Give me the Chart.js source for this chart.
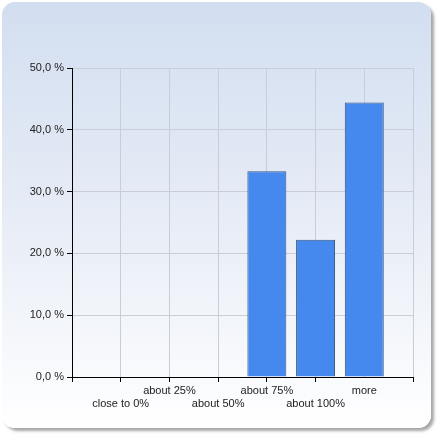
<!DOCTYPE html>
<html>
<head>
<meta charset="utf-8">
<script src="https://cdn.jsdelivr.net/npm/chart.js@4"></script>
<style>
  html, body { margin: 0; padding: 0; background: #fff; }
  #panel {
    position: absolute; left: 2px; top: 2px; width: 429px; height: 426px;
    border-radius: 13px;
    background: linear-gradient(to bottom, #d2def0 0%, #e9eef7 55%, #ffffff 100%);
    box-shadow: 3px 3px 3px rgba(0,0,0,0.35);
  }
  #chart { position: absolute; left: 0; top: 0; }
</style>
</head>
<body>
<div id="panel"></div>
<canvas id="chart" width="441" height="441"></canvas>
<script>
var categories = ['close to 0%', 'about 25%', 'about 50%', 'about 75%', 'about 100%', 'more'];
var percents   = [0, 0, 0, 33.3, 22.2, 44.4];
var yTicks     = [0, 10, 20, 30, 40, 50];

// an empty slot before and after, so the bars sit on the grid lines
var labels = [''].concat(categories, ['']);
var values = [null].concat(percents, [null]);

var ctx = document.getElementById('chart');

var chart = new Chart(ctx, {
  type: 'bar',
  data: {
    labels: labels,
    datasets: [{
      data: values,
      backgroundColor: '#4589ee',
      borderColor: '#35557f',
      borderWidth: 1,
      borderSkipped: 'bottom',
      barPercentage: 0.8,
      categoryPercentage: 1
    }]
  },
  options: {
    responsive: false,
    animation: false,
    layout: { padding: { top: 68, right: 28, left: 0, bottom: 0 } },
    plugins: { legend: { display: false }, tooltip: { enabled: false } },
    scales: {
      x: {
        offset: false,
        afterFit: function(s) { s.height = 64; },
        border: { color: '#000', width: 1 },
        grid: {
          offset: false,
          color: '#c9cdd5',
          tickLength: 5,
          tickColor: function(c) { return c.index === 6 ? 'rgba(0,0,0,0)' : '#000'; }
        },
        ticks: {
          autoSkip: false,
          maxRotation: 0,
          padding: 2,
          color: '#222',
          font: { family: 'Liberation Sans', size: 11 },
          callback: function(v, i) {
            var t = labels[i];
            return i % 2 === 1 ? ['', t] : [t];
          }
        }
      },
      y: {
        min: 0,
        max: 50,
        afterFit: function(s) { s.width = 72; },
        afterBuildTicks: function(s) { s.ticks = yTicks.map(function(v) { return { value: v }; }); },
        border: { color: '#000', width: 1 },
        grid: { color: '#c9cdd5', tickLength: 5, tickColor: '#000' },
        ticks: {
          padding: 3,
          color: '#222',
          font: { family: 'Liberation Sans', size: 11 },
          callback: function(v) { return v.toFixed(1).replace('.', ',') + ' %'; }
        }
      }
    }
  }
});
</script>
</body>
</html>
